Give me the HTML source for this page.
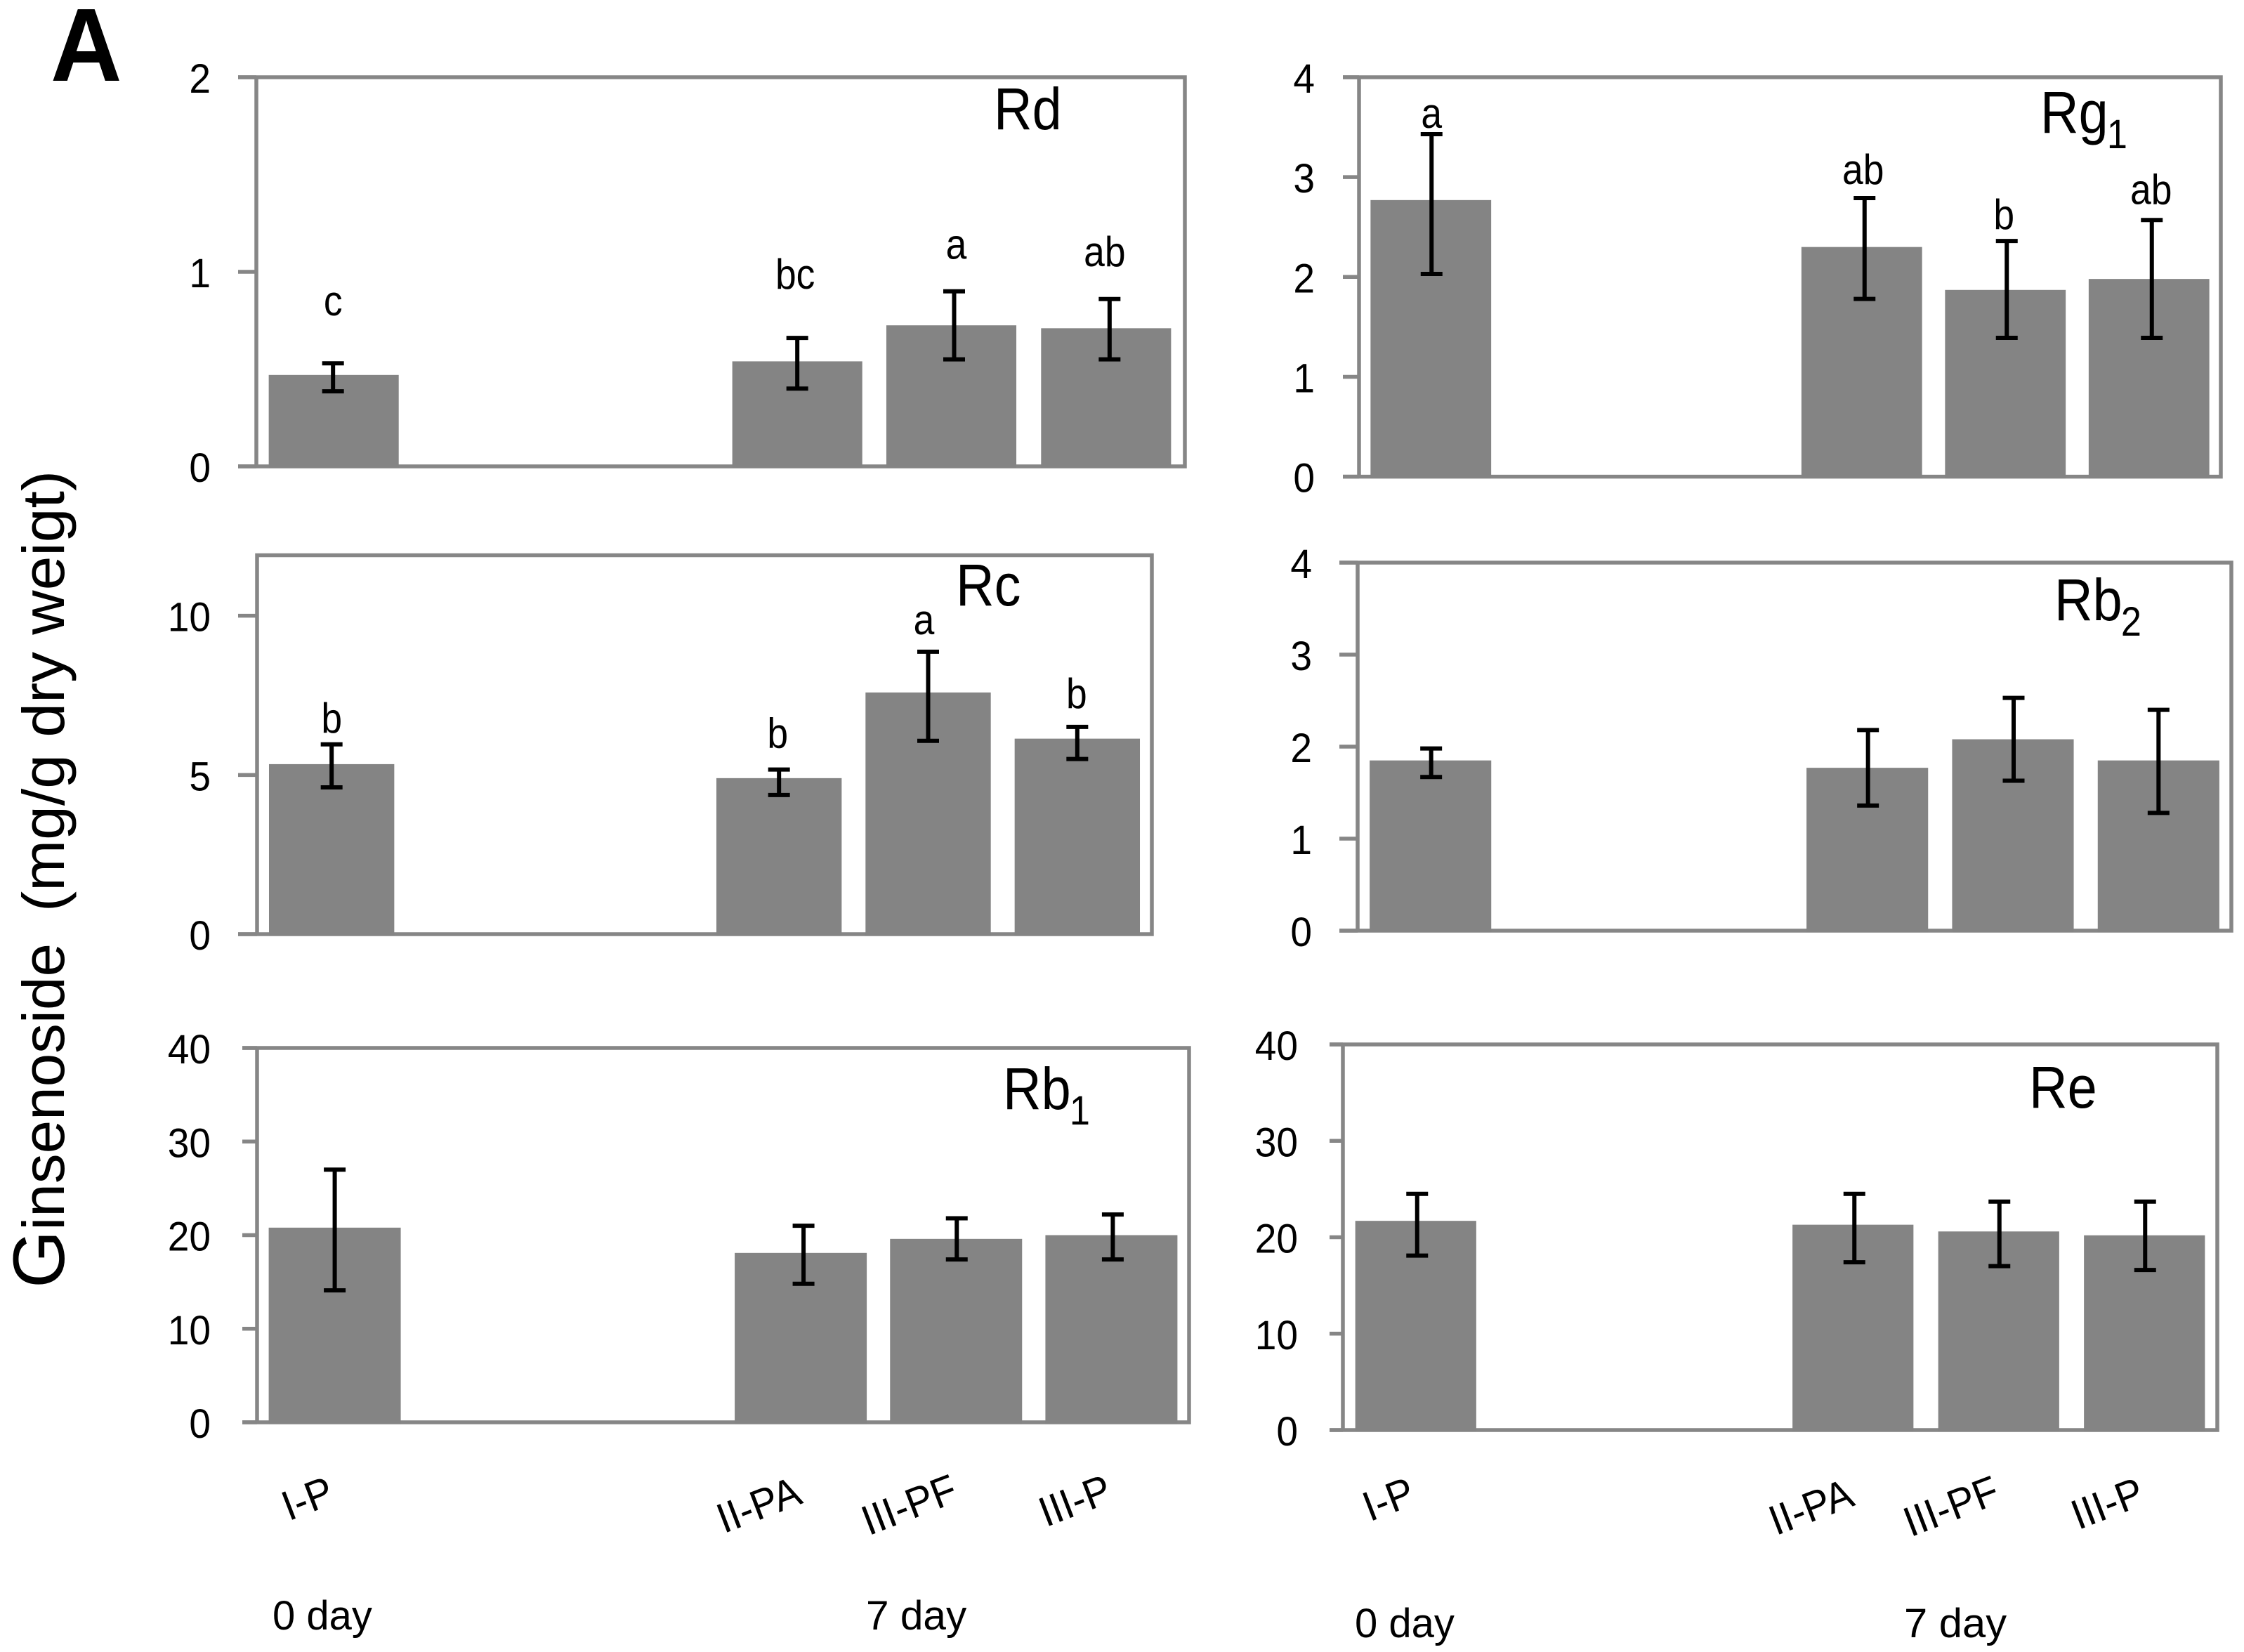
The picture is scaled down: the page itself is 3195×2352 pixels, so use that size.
<!DOCTYPE html>
<html lang="en">
<head>
<meta charset="utf-8">
<title>Ginsenoside content</title>
<style>
html,body{margin:0;padding:0;background:#fff;}
svg{display:block;}
text{font-family:"Liberation Sans",Arial,sans-serif;fill:#000;}
</style>
</head>
<body>
<svg id="figure" xmlns="http://www.w3.org/2000/svg" width="3195" height="2352" viewBox="0 0 3195 2352">
  <rect width="3195" height="2352" fill="#fff"/>
  <text transform="translate(72,115) scale(0.95,1)" font-size="148" font-weight="700">A</text>
  <text transform="translate(91,1834) rotate(-90)" font-size="84" textLength="491" lengthAdjust="spacingAndGlyphs"><tspan font-size="104">G</tspan>insenoside</text>
  <text transform="translate(91,1298) rotate(-90)" font-size="84" textLength="628" lengthAdjust="spacingAndGlyphs">(mg/g dry weigt)</text>
  <text transform="translate(388,2320) scale(1,1)" font-size="58">0 day</text>
  <text transform="translate(1233,2320) scale(1.01,1)" font-size="58">7 day</text>
  <text transform="translate(1929,2331) scale(1,1)" font-size="58">0 day</text>
  <text transform="translate(2711,2331) scale(1.03,1)" font-size="58">7 day</text>
</svg>
<script>
// ---------- chart data ----------
const categories = ['I-P', '', '', 'II-PA', 'III-PF', 'III-P'];

const rdTicks = [0, 1, 2];
const rdValues = [0.47, null, null, 0.54, 0.725, 0.71];
const rdUpper = [0.53, null, null, 0.66, 0.90, 0.86];
const rdLower = [0.386, null, null, 0.40, 0.55, 0.55];
const rdLetters = ['c', '', '', 'bc', 'a', 'ab'];

const rg1Ticks = [0, 1, 2, 3, 4];
const rg1Values = [2.77, null, null, 2.30, 1.87, 1.98];
const rg1Upper = [3.43, null, null, 2.79, 2.36, 2.57];
const rg1Lower = [2.03, null, null, 1.78, 1.39, 1.39];
const rg1Letters = ['a', '', '', 'ab', 'b', 'ab'];

const rcTicks = [0, 5, 10];
const rcValues = [5.34, null, null, 4.90, 7.59, 6.14];
const rcUpper = [5.96, null, null, 5.17, 8.87, 6.51];
const rcLower = [4.61, null, null, 4.37, 6.07, 5.50];
const rcLetters = ['b', '', '', 'b', 'a', 'b'];

const rb2Ticks = [0, 1, 2, 3, 4];
const rb2Values = [1.85, null, null, 1.77, 2.08, 1.85];
const rb2Upper = [1.98, null, null, 2.18, 2.53, 2.40];
const rb2Lower = [1.67, null, null, 1.36, 1.63, 1.28];

const rb1Ticks = [0, 10, 20, 30, 40];
const rb1Values = [20.8, null, null, 18.1, 19.6, 20.0];
const rb1Upper = [27.0, null, null, 21.0, 21.8, 22.2];
const rb1Lower = [14.1, null, null, 14.8, 17.4, 17.4];

const reTicks = [0, 10, 20, 30, 40];
const reValues = [21.7, null, null, 21.3, 20.6, 20.2];
const reUpper = [24.5, null, null, 24.5, 23.7, 23.7];
const reLower = [18.1, null, null, 17.4, 17.0, 16.6];

// ---------- drawing ----------
const NS = 'http://www.w3.org/2000/svg';
const svg = document.getElementById('figure');
const AXIS_COLOR = '#868686';
const BAR_COLOR = '#848484';

function make(parent, tag, attrs) {
  const node = document.createElementNS(NS, tag);
  for (const key in attrs) node.setAttribute(key, attrs[key]);
  parent.appendChild(node);
  return node;
}

function drawPanel(p) {
  const g = make(svg, 'g', {});
  
  

  const yScale = v => p.bottom - (v / p.yMax) * (p.bottom - p.top);
  const band = (p.right - p.left) / categories.length;
  const xScale = i => p.left + band * (i + 0.5);
  const barX = i => xScale(i) + (p.barShift ? p.barShift[i] : 0);
  const errX = i => xScale(i) + (p.errShift ? p.errShift[i] : 0);

  // frame (the top edge only overshoots the y axis when a tick sits on it)
  const topStart = p.ticks.includes(p.yMax) ? p.tickLeft : p.left - 2.75;
  const frame = make(g, 'path', {
    d: 'M' + topStart + ' ' + p.top + 'H' + p.right + 'V' + p.bottom + 'H' + p.tickLeft + 'M' + p.left + ' ' + p.top + 'V' + p.bottom,
    fill: 'none', stroke: AXIS_COLOR, 'stroke-width': 5.5
  });
  
  

  // y ticks
  p.ticks.forEach(t => {
    const y = yScale(t);
    const tick = make(g, 'line', { x1: p.tickLeft, x2: p.left, y1: y, y2: y, stroke: AXIS_COLOR, 'stroke-width': 5.5 });
    
    
    const label = make(g, 'text', {
      transform: 'translate(' + p.labelRight + ',' + (y + 22) + ') scale(0.95,1)',
      'font-size': 58, 'text-anchor': 'end'
    });
    label.textContent = String(t);
    
    
  });

  // bars
  p.values.forEach((v, i) => {
    if (v === null) return;
    const cx = barX(i);
    const w = band * p.barFrac;
    const top = yScale(v);
    const bar = make(g, 'rect', { x: cx - w / 2, y: top, width: w, height: p.bottom + 2.5 - top, fill: BAR_COLOR });
    
    
  });

  // error bars and letters
  p.values.forEach((v, i) => {
    if (v === null) return;
    const cx = errX(i);
    const hi = yScale(p.upper[i]);
    const lo = yScale(p.lower[i]);
    const err = make(g, 'path', {
      d: 'M' + cx + ' ' + hi + 'V' + lo + 'M' + (cx - 15.5) + ' ' + hi + 'H' + (cx + 15.5) + 'M' + (cx - 15.5) + ' ' + lo + 'H' + (cx + 15.5),
      fill: 'none', stroke: '#000', 'stroke-width': 6
    });
    
    
    if (p.letters && p.letters[i]) {
      const letter = make(g, 'text', {
        transform: 'translate(' + (cx + p.letterDx[i]) + ',' + (hi - p.letterLift[i]) + ') scale(0.89,1)',
        'font-size': 60, 'text-anchor': 'middle'
      });
      letter.textContent = p.letters[i];
      
      
    }
  });

  // title
  const title = make(g, 'text', {
    transform: 'translate(' + p.titleX + ',' + p.titleY + ') scale(0.9,1)',
    'font-size': 84
  });
  
  
  title.appendChild(document.createTextNode(p.title));
  if (p.sub) {
    const sub = make(title, 'tspan', { dx: -2, dy: 22, 'font-size': 58 });
    sub.textContent = p.sub;
    
    
  }

  // category labels
  if (p.catDx) {
    categories.forEach((c, i) => {
      if (!c) return;
      const cat = make(g, 'text', {
        transform: 'translate(' + (xScale(i) + p.catDx[i]) + ',' + p.catY[i] + ') rotate(-21) scale(0.95,1)',
        y: 21, 'font-size': 60, 'text-anchor': 'middle'
      });
      cat.textContent = c;
      
      
    });
  }
}

drawPanel({
  id: 'rd', title: 'Rd', sub: '', titleX: 1415, titleY: 184,
  left: 365, right: 1687, top: 110, bottom: 664, tickLeft: 339, labelRight: 300, yMax: 2, barFrac: 0.84,
  barShift: [0, 0, 0, -1, -2, -2], errShift: [-1, 0, 0, -1, 2, 3],
  ticks: rdTicks, values: rdValues, upper: rdUpper, lower: rdLower, letters: rdLetters,
  letterDx: [0, 0, 0, -3, 3, -7], letterLift: [68, 0, 0, 70, 46, 47]
});
drawPanel({
  id: 'rg1', title: 'Rg', sub: '1', titleX: 2905, titleY: 189,
  left: 1935, right: 3162, top: 110, bottom: 678.6, tickLeft: 1912, labelRight: 1872, yMax: 4, barFrac: 0.84,
  errShift: [1, 0, 0, 4, 2, 4],
  ticks: rg1Ticks, values: rg1Values, upper: rg1Upper, lower: rg1Lower, letters: rg1Letters,
  letterDx: [0, 0, 0, -2, -4, -1], letterLift: [9, 0, 0, 20, 17, 23]
});
drawPanel({
  id: 'rc', title: 'Rc', sub: '', titleX: 1361, titleY: 862,
  left: 366, right: 1640, top: 790.5, bottom: 1330, tickLeft: 339, labelRight: 300, yMax: 11.9, barFrac: 0.84,
  ticks: rcTicks, values: rcValues, upper: rcUpper, lower: rcLower, letters: rcLetters,
  letterDx: [0, 0, 0, -2, -6, -1], letterLift: [17, 0, 0, 31, 25, 27]
});
drawPanel({
  id: 'rb2', title: 'Rb', sub: '2', titleX: 2925, titleY: 883,
  left: 1933, right: 3177, top: 801, bottom: 1325, tickLeft: 1907, labelRight: 1868, yMax: 4, barFrac: 0.835,
  errShift: [1, 0, 0, 1, 1, 0],
  ticks: rb2Ticks, values: rb2Values, upper: rb2Upper, lower: rb2Lower
});
drawPanel({
  id: 'rb1', title: 'Rb', sub: '1', titleX: 1428, titleY: 1579,
  left: 366, right: 1693, top: 1492, bottom: 2025, tickLeft: 345, labelRight: 300, yMax: 40, barFrac: 0.85,
  errShift: [0, 0, 0, 4, 1, 2],
  ticks: rb1Ticks, values: rb1Values, upper: rb1Upper, lower: rb1Lower,
  catDx: [-39, 0, 0, -60, -67, -52], catY: [2133, 0, 0, 2142, 2142, 2136]
});
drawPanel({
  id: 're', title: 'Re', sub: '', titleX: 2889, titleY: 1577,
  left: 1912, right: 3157, top: 1487, bottom: 2036, tickLeft: 1893, labelRight: 1848, yMax: 40, barFrac: 0.83,
  errShift: [2, 0, 0, 2, 1, 1],
  ticks: reTicks, values: reValues, upper: reUpper, lower: reLower,
  catDx: [-39, 0, 0, -60, -68, -53], catY: [2134, 0, 0, 2145, 2144, 2140]
});
</script>
</body>
</html>
